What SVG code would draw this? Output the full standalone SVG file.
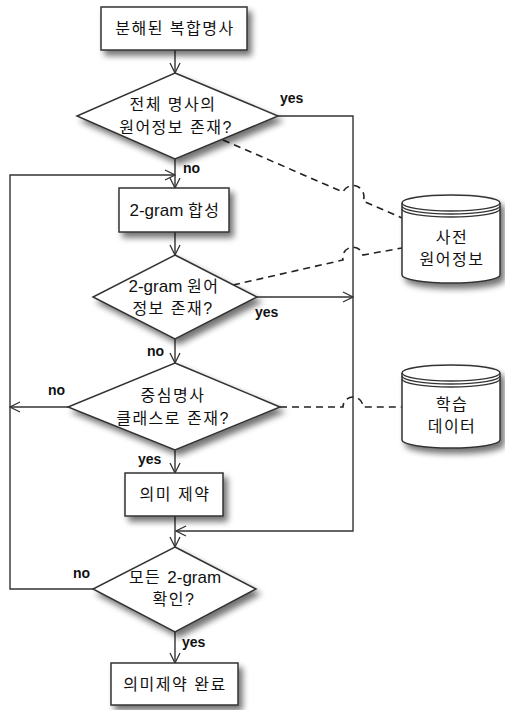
<svg xmlns="http://www.w3.org/2000/svg" width="505" height="710" viewBox="0 0 505 710">
<defs>
<filter id="sh" x="-20%" y="-20%" width="150%" height="160%">
<feGaussianBlur in="SourceAlpha" stdDeviation="3"/>
<feOffset dx="4" dy="5" result="b"/>
<feComponentTransfer><feFuncA type="linear" slope="0.55"/></feComponentTransfer>
<feMerge><feMergeNode/><feMergeNode in="SourceGraphic"/></feMerge>
</filter>
<marker id="ar" markerWidth="12" markerHeight="12" refX="11" refY="6" orient="auto" markerUnits="userSpaceOnUse">
<path d="M1,1 L11,6 L1,11" fill="none" stroke="#333" stroke-width="1.3"/>
</marker>
</defs>
<style>
.n{fill:#fff;stroke:#333;stroke-width:1.5;filter:url(#sh)}
.l{fill:none;stroke:#333;stroke-width:1.4}
.d{fill:none;stroke:#222;stroke-width:1.6;stroke-dasharray:7,5}
.t{font-family:"Liberation Sans","Noto Sans CJK KR",sans-serif;font-size:16px;letter-spacing:1.5px;fill:#111;text-anchor:middle}
.g{letter-spacing:0;font-size:17px}
.k{font-family:"Liberation Sans",Arial,sans-serif;font-size:14px;font-weight:bold;fill:#111}
</style>
<rect width="505" height="710" fill="#fff"/>
<g id="connectors">
<line class="l" x1="175" y1="50" x2="175" y2="73" marker-end="url(#ar)"/>
<line class="l" x1="175" y1="159" x2="175" y2="188" marker-end="url(#ar)"/>
<polyline class="l" points="278,116 353,116 353,531 176,531" marker-end="url(#ar)"/>
<polyline class="l" points="93,589 10,589 10,175 175,175" marker-end="url(#ar)"/>
<line class="l" x1="175" y1="232" x2="175" y2="255" marker-end="url(#ar)"/>
<line class="l" x1="257" y1="297" x2="353" y2="297" marker-end="url(#ar)"/>
<line class="l" x1="175" y1="339" x2="175" y2="363" marker-end="url(#ar)"/>
<line class="l" x1="68" y1="407" x2="10" y2="407" marker-end="url(#ar)"/>
<line class="l" x1="175" y1="450" x2="175" y2="473" marker-end="url(#ar)"/>
<line class="l" x1="175" y1="516" x2="175" y2="547" marker-end="url(#ar)"/>
<line class="l" x1="175" y1="632" x2="175" y2="663" marker-end="url(#ar)"/>
<path class="d" d="M223,140 L343,192 A10,10 0 0 1 363,201 L402,218"/>
<path class="d" d="M233,285 L343,260 A10,10 0 0 1 363,255 L402,248"/>
<path class="d" d="M280,407 L343,407 A10,10 0 0 1 363,407 L402,407"/>
<text class="k" x="280" y="103">yes</text>
<text class="k" x="183" y="173">no</text>
<text class="k" x="255" y="317">yes</text>
<text class="k" x="147" y="356">no</text>
<text class="k" x="48" y="395">no</text>
<text class="k" x="138" y="464">yes</text>
<text class="k" x="73" y="578">no</text>
<text class="k" x="182" y="647">yes</text>
</g>
<g id="n1">
<rect class="n" x="101" y="7" width="146" height="43"/>
<text class="t" x="175" y="34">분해된 복합명사</text>
</g>
<g id="n2">
<polygon class="n" points="175,73 278,116 175,159 77,116"/>
<text class="t" x="173" y="110">전체 명사의</text>
<text class="t" x="176" y="133">원어정보 존재?</text>
</g>
<g id="n3">
<rect class="n" x="119" y="188" width="110" height="44"/>
<text class="t" x="175" y="216"><tspan class="g">2-gram </tspan>합성</text>
</g>
<g id="n4">
<polygon class="n" points="175,255 257,297 175,339 93,297"/>
<text class="t" x="174" y="292"><tspan class="g">2-gram </tspan>원어</text>
<text class="t" x="173" y="314">정보 존재?</text>
</g>
<g id="n5">
<polygon class="n" points="175,363 280,407 175,450 68,407"/>
<text class="t" x="173" y="401">중심명사</text>
<text class="t" x="173" y="424">클래스로 존재?</text>
</g>
<g id="n6">
<rect class="n" x="125" y="473" width="98" height="43"/>
<text class="t" x="175" y="500">의미 제약</text>
</g>
<g id="n7">
<polygon class="n" points="175,547 256,589 175,632 93,589"/>
<text class="t" x="175" y="583">모든 <tspan class="g">2-gram</tspan></text>
<text class="t" x="174" y="605">확인?</text>
</g>
<g id="n8">
<rect class="n" x="111" y="663" width="127" height="42"/>
<text class="t" x="175" y="690">의미제약 완료</text>
</g>
<g id="n9">
<path class="n" d="M402,203 A49,8 0 0 1 500,203 V275 A49,8 0 0 1 402,275 Z"/>
<path class="l" d="M402,203 A49,8 0 0 0 500,203 M402,206 A49,8 0 0 0 500,206 M402,209 A49,8 0 0 0 500,209"/>
<text class="t" x="452" y="243">사전</text>
<text class="t" x="452" y="265">원어정보</text>
</g>
<g id="n10">
<path class="n" d="M402,373 A49,8 0 0 1 500,373 V440 A49,8 0 0 1 402,440 Z"/>
<path class="l" d="M402,373 A49,8 0 0 0 500,373 M402,376 A49,8 0 0 0 500,376 M402,379 A49,8 0 0 0 500,379"/>
<text class="t" x="452" y="410">학습</text>
<text class="t" x="452" y="432">데이터</text>
</g>
</svg>
